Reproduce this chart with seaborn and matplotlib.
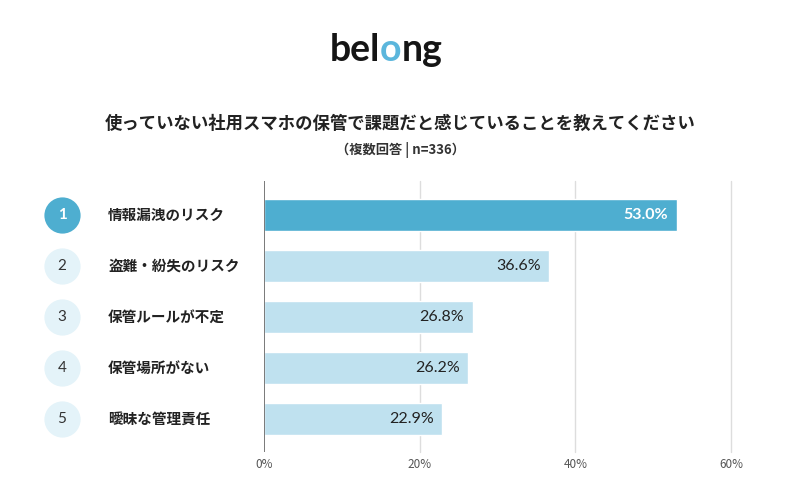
import matplotlib
matplotlib.use("Agg")
import matplotlib.pyplot as plt
import seaborn as sns
import pandas as pd

# data
ranks = ["1", "2", "3", "4", "5"]
labels = ["情報漏洩のリスク", "盗難・紛失のリスク", "保管ルールが不定", "保管場所がない", "曖昧な管理責任"]
values = [53.0, 36.6, 26.8, 26.2, 22.9]
xticks = [0, 20, 40, 60]
xtick_labels = ["0%", "20%", "40%", "60%"]

title = "使っていない社用スマホの保管で課題だと感じていることを教えてください"
subtitle = "（複数回答 | n=336）"

DARK = "#4eaed0"
LIGHT = "#bfe1ef"
CIRCLE_LIGHT = "#e4f3f9"

sns.set_theme(style="white")
plt.rcParams["font.family"] = ["Noto Sans CJK JP", "DejaVu Sans"]

df = pd.DataFrame({"label": labels, "value": values})
colors = [DARK] + [LIGHT] * (len(labels) - 1)

fig = plt.figure(figsize=(8, 5), dpi=100)
ax = fig.add_axes([0.33, 0.096, 0.58375, 0.542])

# grid lines behind bars
for t in xticks[1:]:
    ax.axvline(t, color="#dddddd", lw=1, zorder=0, clip_on=False)

sns.barplot(data=df, x="value", y="label", hue="label", palette=colors,
            orient="h", width=0.63, legend=False, ax=ax, zorder=2,
            saturation=1)

ax.axvline(0, color="#555555", lw=1.1, zorder=3)
ax.set_xlim(0, 60)
ax.set_ylim(4.65, -0.67)
ax.set_xticks(xticks)
ax.set_xticklabels(xtick_labels, fontsize=8.5, color="#555555")
ax.tick_params(axis="x", length=0, pad=4)
ax.set_yticks([])
ax.set_xlabel("")
ax.set_ylabel("")
for s in ax.spines.values():
    s.set_visible(False)

# value labels inside bar ends
for i, v in enumerate(values):
    ax.annotate(f"{v:.1f}%", xy=(v, i), xytext=(-6, 0), textcoords="offset points",
                ha="right", va="center", fontsize=11.5,
                family=["Lato", "DejaVu Sans"],
                color="white" if i == 0 else "#222222",
                fontweight="bold" if i == 0 else "normal", zorder=4)

# rank circles and category labels
trans = ax.get_yaxis_transform()
for i, (r, lab) in enumerate(zip(ranks, labels)):
    ax.scatter([-0.4325], [i], s=680, color=DARK if i == 0 else CIRCLE_LIGHT,
               transform=trans, clip_on=False, zorder=5, linewidths=0)
    ax.text(-0.4325, i, r, transform=trans, ha="center", va="center",
            fontsize=11, family=["Lato", "DejaVu Sans"],
            color="white" if i == 0 else "#333333",
            fontweight="bold" if i == 0 else "normal", zorder=6)
    ax.text(-0.334, i, lab, transform=trans, ha="left", va="center",
            fontsize=10.5, fontweight="bold", color="#222222")

# titles
fig.text(0.5, 1 - 124 / 500, title, ha="center", va="center", fontsize=12.5,
         fontweight="bold", color="#222222")
fig.text(0.5, 1 - 150 / 500, subtitle, ha="center", va="center", fontsize=9.5,
         fontweight="bold", color="#333333")

# logo "belong" with blue o
logo_kw = dict(fontsize=27, va="baseline", fontweight="bold", family=["Lato", "DejaVu Sans"])
y_logo = 1 - 61 / 500
fig.canvas.draw()
renderer = fig.canvas.get_renderer()
t1 = fig.text(0, y_logo, "bel", color="#151515", **logo_kw)
t2 = fig.text(0, y_logo, "o", color="#5bb6dc", **logo_kw)
t3 = fig.text(0, y_logo, "ng", color="#151515", **logo_kw)
w1 = t1.get_window_extent(renderer).width
w2 = t2.get_window_extent(renderer).width
w3 = t3.get_window_extent(renderer).width
total = w1 + w2 + w3
x0 = 386 - total / 2
t1.set_x(x0 / 800)
t2.set_x((x0 + w1) / 800)
t3.set_x((x0 + w1 + w2) / 800)

fig.savefig("out.png", dpi=100, facecolor="white")
